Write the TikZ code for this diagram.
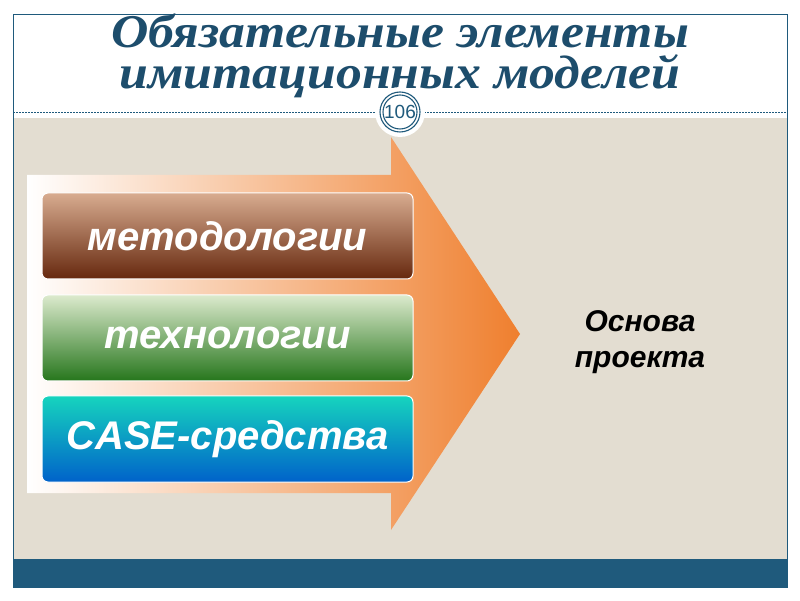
\documentclass[tikz,border=0pt]{standalone}
\usepackage{fontspec}
\setsansfont{Liberation Sans}
\newfontfamily\titlefont{Liberation Serif}[FakeStretch=1.1]
\usetikzlibrary{positioning}

\definecolor{slideblue}{HTML}{1F5A7C}
\definecolor{titleblue}{HTML}{1D4D6C}
\definecolor{slidebeige}{HTML}{E3DDD1}
\definecolor{arroworange}{HTML}{EF7F2E}
\definecolor{metodtop}{HTML}{D8AC90}
\definecolor{metodmid}{HTML}{A2502A}
\definecolor{metodbot}{HTML}{66280E}
\definecolor{techtop}{HTML}{DCEACD}
\definecolor{techmid}{HTML}{8DBA70}
\definecolor{techbot}{HTML}{26761C}
\definecolor{casetop}{HTML}{16D4BE}
\definecolor{casemid}{HTML}{1EBDE6}
\definecolor{casebot}{HTML}{0062CA}

\begin{document}
\begin{tikzpicture}[x=1pt,y=1pt,
    box/.style={rounded corners=6pt, draw=white, line width=1pt, inner sep=0pt,
      minimum width=371pt, minimum height=86pt, text=white,
      font=\sffamily\bfseries\itshape\fontsize{40}{40}\selectfont},
    titletext/.style={align=center, text=titleblue, inner sep=0pt,
      font=\titlefont\bfseries\itshape\fontsize{47}{41}\selectfont}]
    \useasboundingbox (0,0) rectangle (800,600);
    \fill[white] (0,0) rectangle (800,600);
    \fill[slidebeige] (13,41) rectangle (787,482);
    \fill[slideblue] (13,13) rectangle (787,41);
    \draw[slideblue, line width=0.8pt] (13,13) rectangle (787,586);
    \draw[slideblue, dash pattern=on 2pt off 1pt, line width=0.6pt] (13,488) -- (787,488);
    % title
    \node[titletext] (title) at (400,544) {Обязательные элементы\\имитационных моделей};
    % page number
    \node[circle, fill=white, minimum size=50pt] (pagebg) at (400,488) {};
    \draw[slideblue, line width=1.1pt] (pagebg.center) circle (20pt);
    \draw[slideblue, line width=1.1pt] (pagebg.center) circle (17pt);
    \node[text=slideblue, font=\sffamily\fontsize{19}{19}\selectfont] (pagenum) at (400,488) {106};
    % big arrow
    \shade[left color=white, middle color=arroworange!30!white, right color=arroworange]
      (27,107) -- (27,425) -- (391,425) -- (391,463) -- (520,266) -- (391,70) -- (391,107) -- cycle;
    % boxes
    \node[box, top color=metodtop, middle color=metodmid, bottom color=metodbot]
      (metod) at (227.5,364) {методологии};
    \node[box, top color=techtop, middle color=techmid, bottom color=techbot,
      below=15pt of metod] (tech) {технологии};
    \node[box, top color=casetop, middle color=casemid, bottom color=casebot,
      below=14pt of tech] (casetools) {CASE-средства};
    % result
    \node[align=center, font=\sffamily\bfseries\itshape\fontsize{30}{36}\selectfont] (osnova) at (640,258) {Основа\\проекта};
\end{tikzpicture}
\end{document}
